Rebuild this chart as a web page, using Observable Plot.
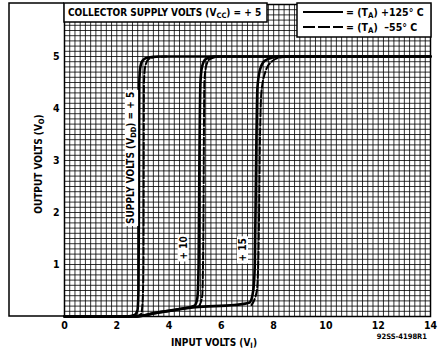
<!DOCTYPE html>
<html><head><meta charset="utf-8">
<script src="https://cdn.jsdelivr.net/npm/d3@7"></script>
<script src="https://cdn.jsdelivr.net/npm/@observablehq/plot@0.6"></script>
<style>
body{margin:0;background:#fff;}
#wrap{position:relative;width:439px;height:351px;}
</style>
</head><body><div id="wrap"></div>
<script>
// ---- data ----
const xTicks = [0, 2, 4, 6, 8, 10, 12, 14];
const yTicks = [1, 2, 3, 4, 5];
const seriesNames = ["+125° C", "-55° C"];
const supplyLabels = ["SUPPLY VOLTS (VDD) = + 5", "+ 10", "+ 15"];
const supplyLabelX = [2.53, 4.55, 6.82];
const supplyLabelY = [3.05, 1.32, 1.28];

// VDD = 5
const vdd5Hot = [[0,0],[2.4,0],[2.68,0.03],[2.79,0.12],[2.83,0.5],[2.845,2],[2.86,4.5],[2.9,4.8],[3.0,4.93],[3.2,4.98],[3.6,5],[14,5]];
const vdd5Cold = [[2.7,0],[2.93,0.05],[2.99,0.3],[3.02,1],[3.04,4.5],[3.09,4.82],[3.22,4.95],[3.5,4.99],[3.9,5]];
// VDD = 10
const vdd10Hot = [[0,0],[2.7,0],[3.5,0.07],[4.5,0.15],[4.98,0.21],[5.08,0.35],[5.13,1],[5.16,3],[5.2,4.5],[5.26,4.8],[5.4,4.95],[5.7,5],[14,5]];
const vdd10Cold = [[5.15,0.2],[5.27,0.4],[5.31,1.5],[5.35,4.5],[5.42,4.82],[5.56,4.95],[5.9,5]];
// VDD = 15
const vdd15Hot = [[0,0],[2.7,0],[3.5,0.07],[5,0.18],[6.5,0.22],[7.08,0.27],[7.22,0.5],[7.28,1],[7.33,3],[7.38,4.4],[7.48,4.75],[7.66,4.92],[7.95,4.98],[8.3,5],[14,5]];
const vdd15Cold = [[7.15,0.22],[7.36,0.5],[7.43,1.5],[7.48,3.5],[7.53,4.3],[7.68,4.7],[7.92,4.9],[8.25,4.98],[8.8,5]];

// ---- build tables ----
function rowsOf(arr, id, t) { return arr.map(([x, y]) => ({x, y, id, t})); }
const hotRows = [...rowsOf(vdd5Hot,"5",seriesNames[0]), ...rowsOf(vdd10Hot,"10",seriesNames[0]), ...rowsOf(vdd15Hot,"15",seriesNames[0])];
const coldRows = [...rowsOf(vdd5Cold,"5",seriesNames[1]), ...rowsOf(vdd10Cold,"10",seriesNames[1]), ...rowsOf(vdd15Cold,"15",seriesNames[1])];
const labelRows = supplyLabels.map((s, i) => ({s, x: supplyLabelX[i], y: supplyLabelY[i]}));
const xGrid = d3.range(0, 70.5).map(i => i * 0.2);
const yGrid = d3.range(0, 60.5).map(i => i * 0.1);

const FONT = '"DejaVu Sans Condensed","Liberation Sans Narrow",sans-serif';

const chart = Plot.plot({
  width: 439, height: 351,
  marginLeft: 64, marginRight: 9, marginTop: 4, marginBottom: 35,
  x: {domain: [0, 14]},
  y: {domain: [0, 6]},
  style: {fontFamily: FONT, background: "white", color: "black"},
  marks: [
    Plot.gridX(xGrid, {stroke: "#000", strokeOpacity: 0.8, strokeWidth: 1}),
    Plot.gridY(yGrid, {stroke: "#000", strokeOpacity: 0.8, strokeWidth: 1}),
    Plot.axisX(xTicks, {tickSize: 0, tickPadding: 5, fontSize: 10.5, fontWeight: "bold", tickFormat: d => String(d), label: null}),
    Plot.axisY(yTicks, {tickSize: 0, tickPadding: 5, fontSize: 10.5, fontWeight: "bold", tickFormat: d => String(d), label: null}),
    Plot.frame({stroke: "#000", strokeWidth: 1.5}),
    Plot.line(hotRows, {x: "x", y: "y", z: "id", stroke: "#000", strokeWidth: 2.6, curve: "monotone-x"}),
    Plot.line(coldRows, {x: "x", y: "y", z: "id", stroke: "#000", strokeWidth: 2, strokeDasharray: "7,2.5", curve: "monotone-x"}),
    Plot.text(labelRows, {x: "x", y: "y", text: "s", rotate: -90, fontSize: 10, fontWeight: "bold", fill: "#000", fontFamily: FONT})
  ]
});
document.getElementById("wrap").appendChild(chart);

// ---- annotations (frames, boxes, axis titles) ----
const svg = d3.select(chart);
function richText(g, parts, attrs) {
  const t = g.append("text").attr("text-anchor", "start");
  for (const k in attrs) t.attr(k, attrs[k]);
  let inSub = false;
  for (const [s, sub] of parts) {
    const ts = t.append("tspan").text(s);
    if (sub && !inSub) { ts.attr("dy", "0.3em").attr("font-size", "0.75em"); inSub = true; }
    else if (!sub && inSub) { ts.attr("dy", "-0.225em"); inSub = false; }
  }
  return t;
}
const g = svg.append("g").attr("font-family", FONT).attr("font-weight", "bold").attr("fill", "#000");
// outer frame
g.append("path").attr("d", "M64,3 H9 V316 H64").attr("fill", "none").attr("stroke", "#000").attr("stroke-width", 1.5);
// title box
g.append("rect").attr("x", 64).attr("y", 3).attr("width", 203).attr("height", 19).attr("fill", "white").attr("stroke", "#000").attr("stroke-width", 1.5);
richText(g, [["COLLECTOR SUPPLY VOLTS (V", false], ["CC", true], [") = + 5", false]], {x: 68, y: 16, "font-size": 10});
// legend box
g.append("rect").attr("x", 297).attr("y", 3).attr("width", 134).attr("height", 34).attr("fill", "white").attr("stroke", "#000").attr("stroke-width", 1.5);
g.append("line").attr("x1", 303).attr("x2", 343).attr("y1", 12).attr("y2", 12).attr("stroke", "#000").attr("stroke-width", 2);
g.append("line").attr("x1", 303).attr("x2", 343).attr("y1", 27).attr("y2", 27).attr("stroke", "#000").attr("stroke-width", 2).attr("stroke-dasharray", "12,3");
richText(g, [["= (T", false], ["A", true], [") " + seriesNames[0], false]], {x: 346, y: 16, "font-size": 10.5});
richText(g, [["= (T", false], ["A", true], [")  " + seriesNames[1].replace("-", "\u2013"), false]], {x: 346, y: 31, "font-size": 10.5});
// axis titles
richText(g, [["OUTPUT VOLTS (V", false], ["O", true], [")", false]], {transform: "translate(42,164) rotate(-90)", "text-anchor": "middle", "font-size": 10});
richText(g, [["INPUT VOLTS (V", false], ["I", true], [")", false]], {x: 214, y: 346, "text-anchor": "middle", "font-size": 10});
g.append("text").attr("x", 427).attr("y", 339).attr("text-anchor", "end").attr("font-size", 7.5).text("92SS-4198R1");
// in-plot supply labels: subscript and white backing boxes
svg.selectAll("text").each(function() {
  const el = this;
  const content = el.textContent;
  if (!supplyLabels.includes(content)) return;
  if (content === supplyLabels[0]) {
    el.textContent = "";
    const d = d3.select(el);
    d.append("tspan").text("SUPPLY VOLTS (V");
    d.append("tspan").attr("dy", "0.3em").attr("font-size", "0.75em").text("DD");
    d.append("tspan").attr("dy", "-0.225em").text(") = + 5");
  }
  const bb = el.getBBox();
  const r = d3.select(el.parentNode).insert("rect", () => el)
    .attr("x", bb.x - 2).attr("y", bb.y).attr("width", bb.width + 4).attr("height", bb.height)
    .attr("fill", "white");
  const tf = el.getAttribute("transform");
  if (tf) r.attr("transform", tf);
});
</script></body></html>
